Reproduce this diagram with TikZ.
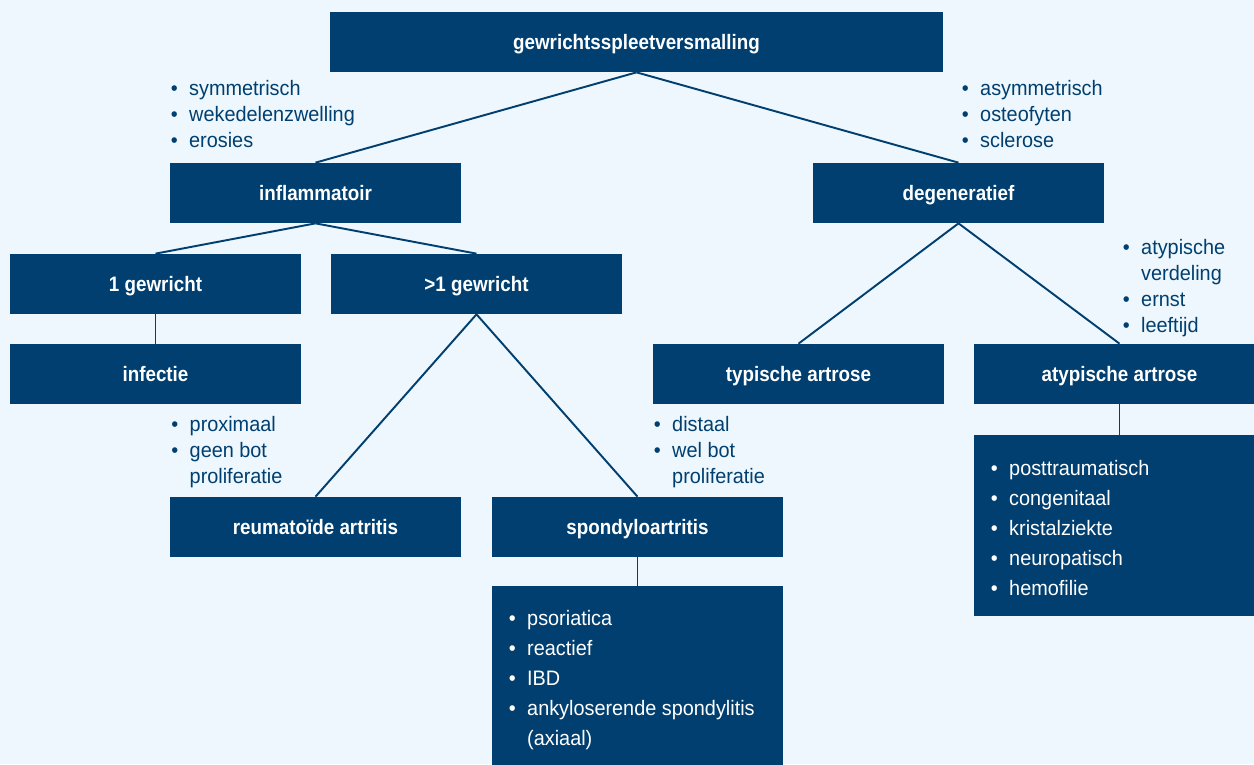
\documentclass[tikz,border=0pt]{standalone}
\usepackage{fontspec}
\setmainfont{Liberation Sans}[FakeStretch=0.95]
\newfontfamily\boxfont{Liberation Sans}[FakeStretch=0.9]
\usetikzlibrary{positioning}
\definecolor{navy}{HTML}{003F6F}
\definecolor{paleblue}{HTML}{EEF7FD}
\newcommand\punten[1]{\begin{tabular}[t]{@{}l@{\hspace{6.5pt}}l@{}}#1\end{tabular}}

\begin{document}
\begin{tikzpicture}[x=0.02cm,y=-0.02cm]
      \tikzset{
        node distance=1.8cm,
        stagebox/.style={rectangle,fill=navy,text=white,inner sep=0pt,minimum width=5.82cm,minimum height=1.2cm,
          font=\boxfont\bfseries\fontsize{11.9}{14}\selectfont,text height=8.5pt,text depth=0pt},
        listbox/.style={rectangle,fill=navy,inner sep=0pt,minimum width=5.82cm},
        uitleg/.style={anchor=base west,inner sep=0pt,text=navy,font=\fontsize{11.9}{14.9}\selectfont},
        inbox/.style={anchor=base west,inner sep=0pt,text=white,font=\fontsize{11.9}{17.2}\selectfont},
        tak/.style={draw=navy,line width=1.1pt}
      }
      \useasboundingbox (0,0) rectangle (1254,764);
      \fill[paleblue] (0,0) rectangle (1254,764);
      \clip (0,0) rectangle (1254,764);

      % boxes
      \node[stagebox,minimum width=12.26cm] (top) at (636.5,42) {gewrichtsspleetversmalling};
      \node[stagebox] (infl) at (315.5,193) {inflammatoir};
      \node[stagebox] (degen) at (958.5,193) {degeneratief};
      \node[stagebox] (een) at (155.5,284) {1 gewricht};
      \node[stagebox] (meer) at (476.5,284) {>1 gewricht};
      \node[stagebox,below of=een] (infectie) {infectie};
      \node[stagebox] (typ) at (798.5,374) {typische artrose};
      \node[stagebox] (atyp) at (1119.5,374) {atypische artrose};
      \node[stagebox] (reuma) at (315.5,527) {reumatoïde artritis};
      \node[stagebox] (spondylo) at (637.5,527) {spondyloartritis};
      \node[listbox,minimum height=3.78cm] (spabox) at (637.5,680.5) {};
      \node[listbox,minimum height=3.62cm] (postbox) at (1119.5,525.5) {};

      % kenmerken
      \node[uitleg] (sym) at (170.5,95) {\punten{\textbullet & symmetrisch\\ \textbullet & wekedelenzwelling\\ \textbullet & erosies}};
      \node[uitleg] (asym) at (961.5,95) {\punten{\textbullet & asymmetrisch\\ \textbullet & osteofyten\\ \textbullet & sclerose}};
      \node[uitleg] (atypkm) at (1122.5,254) {\punten{\textbullet & atypische\\ & verdeling\\ \textbullet & ernst\\ \textbullet & leeftijd}};
      \node[uitleg] (prox) at (171,431) {\punten{\textbullet & proximaal\\ \textbullet & geen bot\\ & proliferatie}};
      \node[uitleg] (dist) at (653.5,431) {\punten{\textbullet & distaal\\ \textbullet & wel bot\\ & proliferatie}};
      \node[inbox] (spa) at (508.5,625) {\punten{\textbullet & psoriatica\\ \textbullet & reactief\\ \textbullet & IBD\\
        \textbullet & ankyloserende spondylitis\\ & (axiaal)}};
      \node[inbox] (post) at (990.5,475) {\punten{\textbullet & posttraumatisch\\ \textbullet & congenitaal\\ \textbullet & kristalziekte\\
        \textbullet & neuropatisch\\ \textbullet & hemofilie}};

      \draw[tak] (top.south) edge (infl.north)
            (top.south) edge (degen.north)
            (infl.south) edge (een.north)
            (infl.south) edge (meer.north)
            (een.south) edge (infectie.north)
            (meer.south) edge (reuma.north)
            (meer.south) edge (spondylo.north)
            (degen.south) edge (typ.north)
            (degen.south) edge (atyp.north)
            (atyp.south) edge (postbox.north)
            (spondylo.south) edge (spabox.north);
\end{tikzpicture}
\end{document}
